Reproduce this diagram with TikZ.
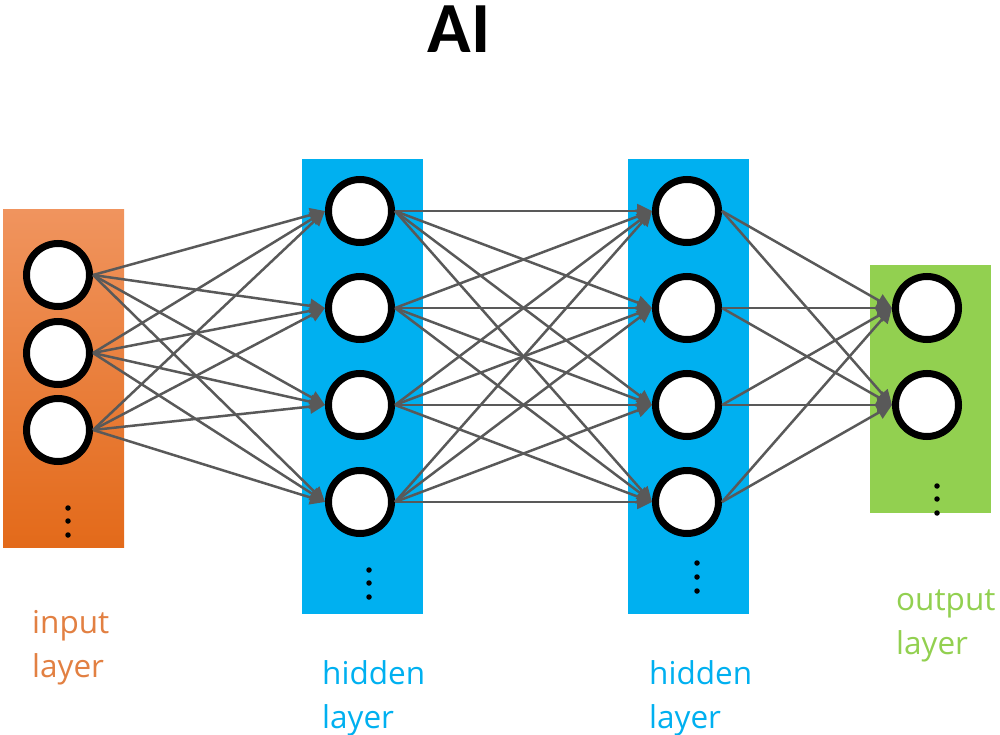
\documentclass[tikz,border=0pt]{standalone}
\usepackage{fontspec}
\newfontfamily\labfont{Open Sans}
\newfontfamily\titlefont{Carlito}
\usetikzlibrary{arrows.meta}
\definecolor{edgegray}{RGB}{89,89,89}
\definecolor{hidblue}{RGB}{0,176,240}
\definecolor{outgreen}{RGB}{146,208,80}
\definecolor{intop}{RGB}{240,148,94}
\definecolor{inmid}{RGB}{243,126,36}
\definecolor{inbot}{RGB}{227,106,26}
\definecolor{inlabel}{RGB}{226,128,66}
\begin{document}
\begin{tikzpicture}[x=1pt,y=-1pt,
  neuron/.style={circle,draw=black,fill=white,line width=7pt,minimum size=63pt,inner sep=0pt},
  conn/.style={draw=edgegray,line width=2.5pt,-{Triangle[length=15pt,width=14pt]}},
  dotc/.style={circle,fill=black,inner sep=0pt,minimum size=5.5pt},
  lab/.style={font=\labfont\fontsize{31.5}{40}\selectfont,anchor=base west,inner sep=0pt},
]
\useasboundingbox (0,0) rectangle (1000,735);
% layer boxes
\shade[top color=intop,middle color=inmid,bottom color=inbot] (3,210) rectangle (124,547);
\fill[hidblue] (302,159) rectangle (423,614);
\fill[hidblue] (628,159) rectangle (749,614);
\fill[outgreen] (870,265) rectangle (991,513);
% title
\node[font=\titlefont\bfseries\fontsize{72}{76}\selectfont,anchor=base,inner sep=0pt] (title) at (459,53) {AI};
% neurons
\node[neuron] (i1) at (58,275) {};
\node[neuron] (i2) at (58,353) {};
\node[neuron] (i3) at (58,430) {};
\foreach \k/\y in {1/211,2/308,3/405,4/502}{
  \node[neuron] (h\k) at (360,\y) {};
  \node[neuron] (g\k) at (687,\y) {};
}
\node[neuron] (o1) at (927,308) {};
\node[neuron] (o2) at (927,405) {};
% dots
\foreach \y [count=\n] in {508,521,535} \node[dotc] (di\n) at (68,\y) {};
\foreach \y [count=\n] in {570,583,597} \node[dotc] (dh\n) at (369,\y) {};
\foreach \y [count=\n] in {563,577,591} \node[dotc] (dg\n) at (697,\y) {};
\foreach \y [count=\n] in {486,499,513} \node[dotc] (do\n) at (937,\y) {};
% connections
\foreach \a in {1,2,3}{\foreach \b in {1,2,3,4}{\draw[conn] (i\a.east) -- (h\b.west);}}
\foreach \a in {1,2,3,4}{\foreach \b in {1,2,3,4}{\draw[conn] (h\a.east) -- (g\b.west);}}
\foreach \a in {1,2,3,4}{\foreach \b in {1,2}{\draw[conn] (g\a.east) -- (o\b.west);}}
% labels
\node[lab,text=inlabel] (inl1) at (32,633) {input};
\node[lab,text=inlabel] (inl2) at (32,677) {layer};
\node[lab,text=hidblue] (hl1) at (322,684) {hidden};
\node[lab,text=hidblue] (hl2) at (322,728) {layer};
\node[lab,text=hidblue] (gl1) at (649,684) {hidden};
\node[lab,text=hidblue] (gl2) at (649,728) {layer};
\node[lab,text=outgreen] (ol1) at (896,610) {output};
\node[lab,text=outgreen] (ol2) at (896,654) {layer};
\end{tikzpicture}
\end{document}
